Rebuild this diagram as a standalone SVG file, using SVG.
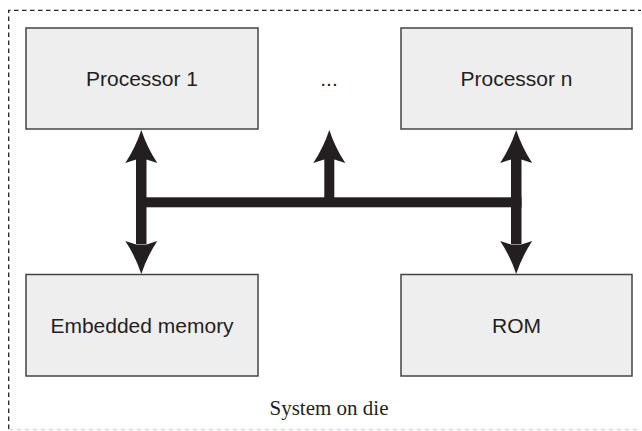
<svg xmlns="http://www.w3.org/2000/svg" xmlns:xlink="http://www.w3.org/1999/xlink" width="642" height="431" viewBox="0 0 642 431">
  <style>
    .box { fill: #eeeeee; stroke: #444444; stroke-width: 1.5; }
    .label { font-family: "Liberation Sans", Arial, sans-serif; font-size: 21px; fill: #231f20; text-anchor: middle; }
    .caption { font-family: "Liberation Serif", "Times New Roman", serif; font-size: 21px; fill: #231f20; text-anchor: middle; }
    .bus { fill: #231f20; }
    .frame { fill: none; stroke: #222222; stroke-width: 1.3; stroke-dasharray: 4.5 3.5; }
    .frame-faint { fill: none; stroke: #d8d8d8; stroke-width: 1.3; stroke-dasharray: 4.5 3.5; }
  </style>
  <defs>
    <!-- arrowhead pointing up, tip at the origin -->
    <path id="headUp" d="M0,0 Q6,18 16,33 L5.2,29.5 L-5.2,29.5 L-16,33 Q-6,18 0,0 Z"/>
    <!-- arrowhead pointing down, tip at the origin -->
    <path id="headDown" d="M0,0 Q6,-18 16,-33 L5.2,-29.5 L-5.2,-29.5 L-16,-33 Q-6,-18 0,0 Z"/>
  </defs>

  <rect width="642" height="431" fill="#ffffff"/>

  <!-- die boundary -->
  <g id="die-boundary">
    <path class="frame" d="M8.7,429 L8.7,10.3 L641,10.3"/>
    <path class="frame-faint" d="M8.7,429.5 L641,429.5"/>
  </g>

  <g id="processor-1">
    <rect class="box" x="26" y="28" width="232" height="101"/>
    <text class="label" x="142" y="85.5">Processor 1</text>
  </g>

  <g id="processor-ellipsis">
    <text class="label" x="329" y="85.5">...</text>
  </g>

  <g id="processor-n">
    <rect class="box" x="401" y="28" width="231" height="101"/>
    <text class="label" x="516.5" y="85.5">Processor n</text>
  </g>

  <g id="embedded-memory">
    <rect class="box" x="26" y="274.5" width="232" height="101.5"/>
    <text class="label" x="142" y="332.5">Embedded memory</text>
  </g>

  <g id="rom">
    <rect class="box" x="401" y="274.5" width="231" height="101.5"/>
    <text class="label" x="516.5" y="332.5">ROM</text>
  </g>

  <!-- shared bus and its taps -->
  <g id="connectors" class="bus">
    <rect x="136" y="197.3" width="385.5" height="10"/>
    <!-- tap to Processor 1 / Embedded memory -->
    <rect x="136" y="158" width="10.5" height="86"/>
    <use xlink:href="#headUp" x="141.3" y="130"/>
    <use xlink:href="#headDown" x="141.3" y="274"/>
    <!-- tap to further processors -->
    <rect x="324.3" y="158" width="10" height="45"/>
    <use xlink:href="#headUp" x="329.3" y="130"/>
    <!-- tap to Processor n / ROM -->
    <rect x="511" y="158" width="10.5" height="86"/>
    <use xlink:href="#headUp" x="516.2" y="130"/>
    <use xlink:href="#headDown" x="516.2" y="274"/>
  </g>

  <g id="caption">
    <text class="caption" x="329" y="415">System on die</text>
  </g>
</svg>
